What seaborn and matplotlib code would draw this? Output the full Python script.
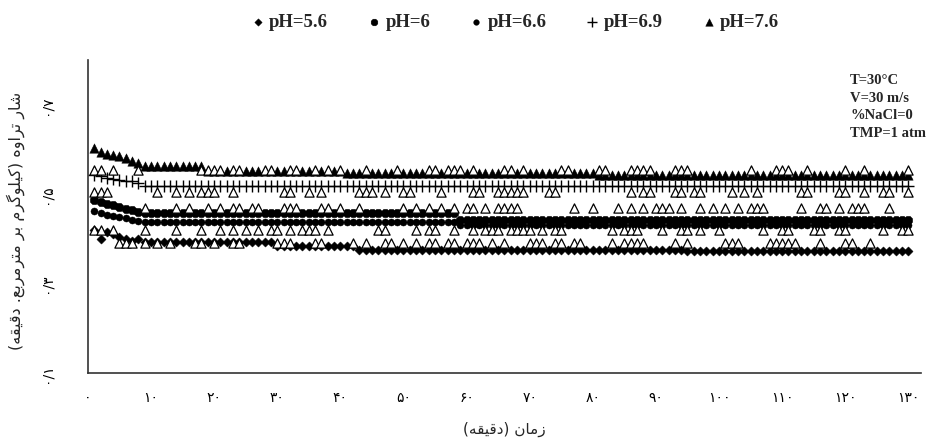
import matplotlib
matplotlib.use("Agg")
import matplotlib.pyplot as plt
import seaborn as sns
import pandas as pd
import numpy as np

# ---------------- data ----------------
minutes = list(range(1, 131))

ph56 = ([0.42, 0.40, 0.415, 0.41, 0.405, 0.40, 0.395, 0.40] + [0.394] * 21 +
        [0.385] * 13 + [0.375] * 52 + [0.372] * 36)
ph6 = ([0.487, 0.482, 0.478, 0.475, 0.472, 0.468, 0.465, 0.46] + [0.457] * 50 +
       [0.443] * 72)
ph66 = ([0.463, 0.458, 0.453, 0.452, 0.45, 0.446, 0.443, 0.44] + [0.437] * 50 +
        [0.431] * 72)
ph69 = [0.543, 0.54, 0.536, 0.535, 0.532, 0.53, 0.53, 0.526] + [0.519] * 122
ph76 = ([0.603, 0.595, 0.59, 0.588, 0.585, 0.58, 0.575, 0.57] + [0.563] * 10 +
        [0.553] * 22 + [0.547] * 40 + [0.543] * 50)

# open triangles (no legend entry): levels and minute positions
open_levels = [0.555, 0.505, 0.47, 0.42, 0.39]
open_x_A = [1, 2, 4, 8, 18, 19, 20, 21, 23, 24, 28, 29, 32, 33, 36, 38, 40, 44, 49, 54, 55, 57,
            58, 59, 61, 66, 67, 69, 75, 76, 81, 82, 86, 87, 88, 89, 93, 94, 95, 105, 109,
            110, 111, 114, 120, 123, 130]
open_x_B = [1, 2, 3, 11, 14, 16, 18, 19, 20, 23, 31, 32, 35, 37, 43, 44, 45, 47, 50, 51, 56, 61,
            62, 65, 66, 67, 68, 69, 73, 74, 86, 88, 89, 93, 94, 96, 97, 102, 104, 106, 113,
            114, 119, 120, 123, 126, 127, 130]
open_x_C = [9, 14, 16, 19, 21, 23, 24, 26, 27, 31, 32, 33, 37, 38, 40, 43, 50, 52, 54, 56, 58,
            60, 61, 63, 65, 66, 67, 68, 77, 80, 84, 86, 88, 90, 91, 92, 94, 97, 99, 101, 103,
            105, 106, 107, 113, 116, 117, 119, 121, 122, 123, 127]
open_x_D = [1, 2, 4, 9, 14, 18, 21, 23, 25, 27, 29, 30, 32, 34, 35, 36, 38, 46, 47, 52, 54, 55,
            58, 61, 63, 64, 65, 67, 68, 69, 70, 72, 74, 75, 83, 85, 86, 87, 91, 94, 95, 97,
            100, 107, 110, 111, 115, 116, 119, 120, 126, 129, 130]
open_x_E = [5, 6, 7, 9, 11, 13, 17, 18, 20, 23, 24, 30, 31, 32, 36, 37, 42, 44, 47, 48, 50, 52,
            54, 55, 57, 58, 60, 61, 62, 64, 66, 70, 71, 72, 74, 75, 77, 78, 83, 85, 86, 87,
            88, 93, 95, 101, 102, 103, 108, 109, 110, 111, 112, 116, 120, 121, 124]

x_ticks = list(range(0, 131, 10))
y_ticks = [0.1, 0.3, 0.5, 0.7]
fa_digits = "۰۱۲۳۴۵۶۷۸۹"


def fa_num(s):
    return "".join(fa_digits[int(c)] if c.isdigit() else c for c in s)


x_tick_labels = [fa_num(str(v)) for v in x_ticks]
y_tick_labels = ["۰/۱", "۰/۳", "۰/۵", "۰/۷"]

y_label_text = "شار تراوه (کیلوگرم بر مترمربع. دقیقه)"
x_label_text = "زمان (دقیقه)"
conditions = ["T=30°C", "V=30 m/s", "%NaCl=0", "TMP=1 atm"]

# ------------- minimal Persian shaping (visual order) -------------
FORMS = {
    "ا": ("\uFE8D", "\uFE8E", None, None),
    "ب": ("\uFE8F", "\uFE90", "\uFE91", "\uFE92"),
    "ت": ("\uFE95", "\uFE96", "\uFE97", "\uFE98"),
    "د": ("\uFEA9", "\uFEAA", None, None),
    "ر": ("\uFEAD", "\uFEAE", None, None),
    "ز": ("\uFEAF", "\uFEB0", None, None),
    "ش": ("\uFEB5", "\uFEB6", "\uFEB7", "\uFEB8"),
    "ع": ("\uFEC9", "\uFECA", "\uFECB", "\uFECC"),
    "ق": ("\uFED5", "\uFED6", "\uFED7", "\uFED8"),
    "ل": ("\uFEDD", "\uFEDE", "\uFEDF", "\uFEE0"),
    "م": ("\uFEE1", "\uFEE2", "\uFEE3", "\uFEE4"),
    "ن": ("\uFEE5", "\uFEE6", "\uFEE7", "\uFEE8"),
    "ه": ("\uFEE9", "\uFEEA", "\uFEEB", "\uFEEC"),
    "و": ("\uFEED", "\uFEEE", None, None),
    "ک": ("\uFB8E", "\uFB8F", "\uFB90", "\uFB91"),
    "گ": ("\uFB92", "\uFB93", "\uFB94", "\uFB95"),
    "ی": ("\uFBFC", "\uFBFD", "\uFBFE", "\uFBFF"),
}


def shape(text):
    out = []
    n = len(text)
    for i, ch in enumerate(text):
        if ch not in FORMS:
            out.append(ch)
            continue
        prev = text[i - 1] if i > 0 else ""
        nxt = text[i + 1] if i < n - 1 else ""
        joins_prev = prev in FORMS and FORMS[prev][2] is not None
        can_next = FORMS[ch][2] is not None
        joins_next = can_next and nxt in FORMS
        isol, fin, ini, med = FORMS[ch]
        if joins_prev and joins_next:
            out.append(med)
        elif joins_prev:
            out.append(fin)
        elif joins_next:
            out.append(ini)
        else:
            out.append(isol)
    mirror = {"(": ")", ")": "("}
    return "".join(mirror.get(c, c) for c in reversed(out))


# ---------------- figure ----------------
sns.set_theme(style="white")
plt.rcParams["font.family"] = ["DejaVu Sans"]

fig = plt.figure(figsize=(9.35, 4.42), dpi=100)
ax = fig.add_axes([0.094, 0.156, 0.891, 0.708])

df = pd.DataFrame({"t": minutes, "ph56": ph56, "ph6": ph6, "ph66": ph66,
                   "ph69": ph69, "ph76": ph76})

sns.scatterplot(data=df, x="t", y="ph56", marker="D", s=22, color="black",
                edgecolor="black", linewidth=0.3, ax=ax, label="pH=5.6")
sns.scatterplot(data=df, x="t", y="ph6", marker="8", s=42, color="black",
                edgecolor="black", linewidth=0.3, ax=ax, label="pH=6")
sns.scatterplot(data=df, x="t", y="ph66", marker="o", s=26, color="black",
                edgecolor="black", linewidth=0.3, ax=ax, label="pH=6.6")
sns.scatterplot(data=df, x="t", y="ph69", marker="+", s=70, color="black",
                linewidth=1.0, ax=ax, label="pH=6.9")
sns.scatterplot(data=df, x="t", y="ph76", marker="^", s=46, color="black",
                edgecolor="black", linewidth=0.3, ax=ax, label="pH=7.6")

open_sets = [open_x_A, open_x_B, open_x_C, open_x_D, open_x_E]
ox, oy = [], []
for lvl, xs in zip(open_levels, open_sets):
    ox += xs
    oy += [lvl] * len(xs)
odf = pd.DataFrame({"t": ox, "v": oy})
sns.scatterplot(data=odf, x="t", y="v", marker="^", s=44, facecolor="white",
                edgecolor="black", linewidth=0.9, ax=ax, legend=False)

ax.set_xlim(0, 132)
ax.set_ylim(0.1, 0.8)
ax.set_xticks(x_ticks)
ax.set_xticklabels(x_tick_labels, fontsize=10)
ax.set_yticks(y_ticks)
ax.set_yticklabels(y_tick_labels, fontsize=10, rotation=90, va="center")
ax.tick_params(axis="x", direction="out", length=4, width=1, pad=9, colors="black")
ax.tick_params(axis="y", direction="out", length=5, width=1, pad=20, colors="black")
for s in ["top", "right"]:
    ax.spines[s].set_visible(False)
for s in ["left", "bottom"]:
    ax.spines[s].set_color("#333333")
    ax.spines[s].set_linewidth(1.2)

ax.set_xlabel(shape(x_label_text), fontsize=11, labelpad=12)
ax.set_ylabel("")
fig.text(16 / 935, 0.50, shape(y_label_text), rotation=90, ha="center", va="center",
         fontsize=11.5)

ax.text(0.915, 0.955, "\n".join(conditions), transform=ax.transAxes,
        ha="left", va="top", fontsize=10.5, fontweight="bold",
        family="Liberation Serif", linespacing=1.45)

handles, labels = ax.get_legend_handles_labels()
ax.get_legend().remove()
fig.legend(handles, labels, loc="center", bbox_to_anchor=(0.552, 0.95), ncol=5,
           frameon=False, prop={"family": "Liberation Serif", "weight": "bold", "size": 13.5},
           handlelength=0.5, handletextpad=0.35, columnspacing=2.2, markerscale=0.8)

fig.savefig("out.png", dpi=100)
